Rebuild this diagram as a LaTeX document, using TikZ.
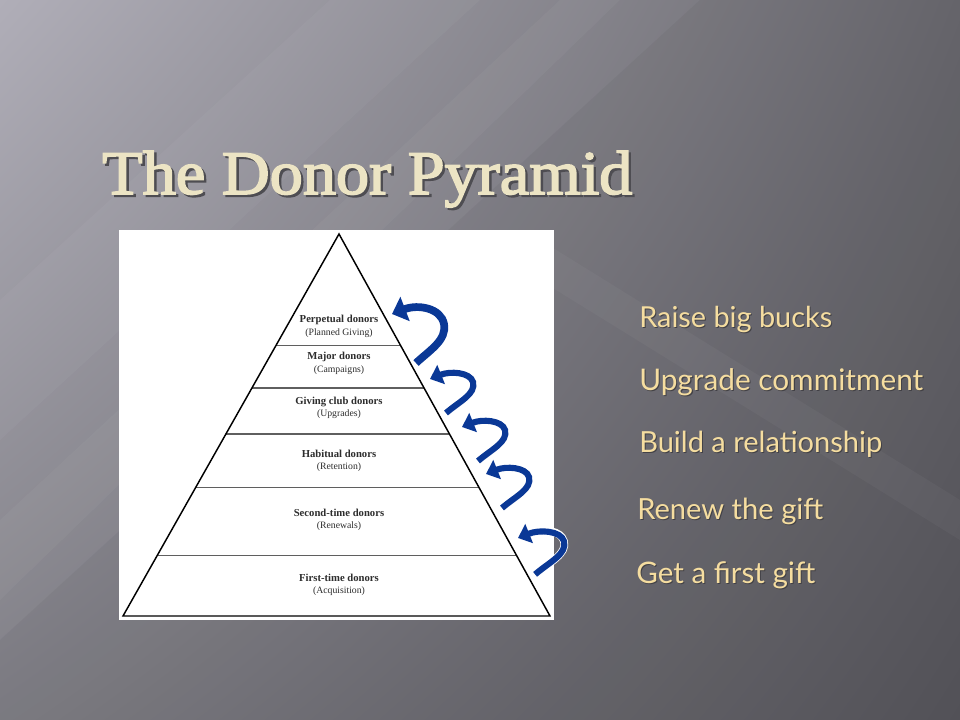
\documentclass[tikz,border=0pt]{standalone}
\usepackage{fontspec}
\usepackage{graphicx}
\usetikzlibrary{arrows.meta,calc,shadings}
\newfontfamily\titlefont[FakeBold=2.5]{Liberation Serif}
\newfontfamily\labelfont{Lato}
\newfontfamily\pyrfont{Liberation Serif}
\definecolor{bgUL}{RGB}{176,174,184}
\definecolor{bgUR}{RGB}{106,105,111}
\definecolor{bgLL}{RGB}{128,127,134}
\definecolor{bgLR}{RGB}{86,85,91}
\definecolor{titlecol}{RGB}{236,228,196}
\definecolor{titleshadow}{RGB}{78,77,82}
\definecolor{labelcol}{RGB}{245,221,160}
\definecolor{labelshadow}{RGB}{66,65,70}
\definecolor{arrowblue}{RGB}{10,56,150}
\definecolor{pyrtext}{RGB}{45,45,45}
\definecolor{divider}{RGB}{95,95,95}
\newcommand{\shadowtext}[4]{\makebox[0pt][l]{\kern#3\raisebox{-#3}{\textcolor{#2}{#4}}}\textcolor{#1}{#4}}
\begin{document}
\begin{tikzpicture}[x=0.75pt,y=-0.75pt,
  lab/.style={anchor=base west, inner sep=0pt, font=\labelfont\fontsize{20}{24}\selectfont},
  pyrbold/.style={inner sep=0pt, text=pyrtext, font=\pyrfont\bfseries\fontsize{8}{9}\selectfont},
  pyrreg/.style={inner sep=0pt, text=pyrtext, font=\pyrfont\fontsize{7.3}{8}\selectfont},
  ribbon/.style={arrowblue, line width=4.6pt, -{Triangle[length=9pt,width=15pt]}},
  bigribbon/.style={arrowblue, line width=5.8pt, -{Triangle[length=10.5pt,width=19pt]}},
  ribbonedge/.style={white, line width=5.8pt},
  streak/.style={white, opacity=0.035},
]
\useasboundingbox (0,0) rectangle (960,720);
% background
\shade[upper left=bgUL, upper right=bgUR, lower left=bgLL, lower right=bgLR] (0,0) rectangle (960,720);
\fill[streak] (0,300) -- (330,0) -- (480,0) -- (0,440) -- cycle;
\fill[streak] (0,520) -- (560,0) -- (620,0) -- (0,600) -- cycle;
\fill[black, opacity=0.04] (0,640) -- (700,0) -- (960,0) -- (960,720) -- (0,720) -- cycle;
\fill[streak] (540,240) -- (960,500) -- (960,540) -- (540,280) -- cycle;

% title
\node (title) [inner sep=0pt, anchor=base west] at (102,194)
  {\resizebox{397.5pt}{32.3pt}{\titlefont\fontsize{46}{50}\selectfont\shadowtext{titlecol}{titleshadow}{1.7pt}{The Donor Pyramid}}};

% picture panel
\fill[white] (119,230) rectangle (554,620);
\coordinate (apex) at (339,234);
\coordinate (bl) at (123,616);
\coordinate (br) at (550,616);
\foreach \f/\n in {0.2924/a,0.4031/b,0.5236/c,0.6641/d,0.8421/e}{
  \draw[divider, line width=0.9pt] ($(apex)!\f!(bl)$) coordinate (L\n) -- ($(apex)!\f!(br)$) coordinate (R\n);
}
\draw[black, line width=1.1pt, line join=miter] (apex) -- (bl) -- (br) -- cycle;

% pyramid texts
\node (t1) [pyrbold] at (339,320) {Perpetual donors};
\node (s1) [pyrreg]  at (339,333) {(Planned Giving)};
\node (t2) [pyrbold] at (339,357) {Major donors};
\node (s2) [pyrreg]  at (339,370.5) {(Campaigns)};
\node (t3) [pyrbold] at (339,402) {Giving club donors};
\node (s3) [pyrreg]  at (339,414.5) {(Upgrades)};
\node (t4) [pyrbold] at (339,453.5) {Habitual donors};
\node (s4) [pyrreg]  at (339,467.5) {(Retention)};
\node (t5) [pyrbold] at (339,513) {Second-time donors};
\node (s5) [pyrreg]  at (339,526.5) {(Renewals)};
\node (t6) [pyrbold] at (339,578) {First-time donors};
\node (s6) [pyrreg]  at (339,591.5) {(Acquisition)};

% arrows
\coordinate (h1) at (392,314);
\draw[bigribbon] ($(h1)+(24,49)$) .. controls ($(h1)+(38,36)$) and ($(h1)+(55,26)$) .. ($(h1)+(52,10)$)
   .. controls ($(h1)+(49,-6)$) and ($(h1)+(26,-10)$) .. (h1);
\foreach \x/\y/\s [count=\i from 2] in {430/379/1, 462/427/1, 486/474/1, 518/538/1.07}{
  \coordinate (h\i) at (\x,\y);
  \draw[ribbonedge] ($(h\i)+\s*(16,34)$) .. controls ($(h\i)+\s*(30,22)$) and ($(h\i)+\s*(46,15)$) .. ($(h\i)+\s*(43,3)$)
     .. controls ($(h\i)+\s*(40,-7)$) and ($(h\i)+\s*(24,-9)$) .. ($(h\i)+\s*(14,-6)$);
  \draw[ribbon] ($(h\i)+\s*(16,34)$) .. controls ($(h\i)+\s*(30,22)$) and ($(h\i)+\s*(46,15)$) .. ($(h\i)+\s*(43,3)$)
     .. controls ($(h\i)+\s*(40,-7)$) and ($(h\i)+\s*(20,-8)$) .. (h\i);
}

% right labels
\foreach \x/\y/\w/\t [count=\i] in {
  639/327.5/144.75pt/Raise big bucks,
  639/390/213pt/Upgrade commitment,
  639/452/182.25pt/Build a relationship,
  637/519/139.5pt/Renew the gift,
  636/583/134.25pt/Get a first gift}{
  \node (g\i) [lab] at (\x,\y) {\resizebox{\w}{!}{\shadowtext{labelcol}{labelshadow}{0.7pt}{\t}}};
}
\end{tikzpicture}
\end{document}
